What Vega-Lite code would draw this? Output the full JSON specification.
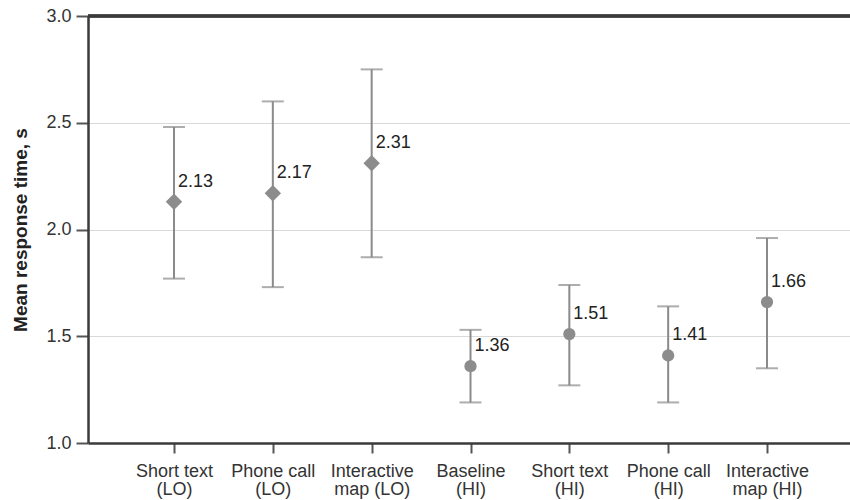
{
  "$schema": "https://vega.github.io/schema/vega-lite/v6.json",
  "autosize": {"type": "none"},
  "padding": {"left": 88, "top": 16, "right": 0, "bottom": 57},
  "width": 765,
  "height": 427,
  "background": "white",
  "config": {
    "font": "Liberation Sans",
    "view": {"stroke": null},
    "axis": {
      "labelFont": "Liberation Sans",
      "titleFont": "Liberation Sans",
      "labelColor": "#333333",
      "titleColor": "#222222",
      "domainColor": "#3a3a3a",
      "domainWidth": 2.5,
      "tickColor": "#555555",
      "tickWidth": 2
    }
  },
  "data": {
    "values": [
      {"cond": "Short text|(LO)", "group": "LO", "mean": 2.13, "lo": 1.77, "hi": 2.48},
      {"cond": "Phone call|(LO)", "group": "LO", "mean": 2.17, "lo": 1.73, "hi": 2.60},
      {"cond": "Interactive|map (LO)", "group": "LO", "mean": 2.31, "lo": 1.87, "hi": 2.75},
      {"cond": "Baseline|(HI)", "group": "HI", "mean": 1.36, "lo": 1.19, "hi": 1.53},
      {"cond": "Short text|(HI)", "group": "HI", "mean": 1.51, "lo": 1.27, "hi": 1.74},
      {"cond": "Phone call|(HI)", "group": "HI", "mean": 1.41, "lo": 1.19, "hi": 1.64},
      {"cond": "Interactive|map (HI)", "group": "HI", "mean": 1.66, "lo": 1.35, "hi": 1.96}
    ]
  },
  "layer": [
    {
      "encoding": {
        "x": {
          "field": "cond",
          "type": "nominal",
          "sort": null,
          "scale": {"type": "point", "padding": 0.87},
          "axis": {
            "title": null,
            "labelAngle": 0,
            "labelExpr": "split(datum.label, '|')",
            "labelFontSize": 18,
            "labelLineHeight": 18,
            "labelPadding": 9,
            "tickSize": 10,
            "labelBaseline": "top"
          }
        }
      },
      "layer": [
        {
          "mark": {"type": "rule", "color": "#8a8a8a", "strokeWidth": 2},
          "encoding": {
            "y": {
              "field": "lo",
              "type": "quantitative",
              "scale": {"domain": [1, 3], "nice": false},
              "axis": {
                "title": "Mean response time, s",
                "values": [1, 1.5, 2, 2.5, 3],
                "format": ".1f",
                "labelFontSize": 18,
                "titleFontSize": 19,
                "titleFontWeight": "bold",
                "titlePadding": 15,
                "tickSize": 12,
                "labelPadding": 5,
                "grid": true,
                "gridColor": "#d9d9d9",
                "gridWidth": 1
              }
            },
            "y2": {"field": "hi"}
          }
        },
        {
          "mark": {"type": "tick", "color": "#8a8a8a", "thickness": 2, "size": 22},
          "encoding": {"y": {"field": "lo", "type": "quantitative"}}
        },
        {
          "mark": {"type": "tick", "color": "#8a8a8a", "thickness": 2, "size": 22},
          "encoding": {"y": {"field": "hi", "type": "quantitative"}}
        },
        {
          "mark": {"type": "point", "filled": true, "opacity": 1, "color": "#8c8c8c"},
          "encoding": {
            "y": {"field": "mean", "type": "quantitative"},
            "shape": {
              "field": "group",
              "type": "nominal",
              "scale": {"domain": ["LO", "HI"], "range": ["diamond", "circle"]},
              "legend": null
            },
            "size": {
              "field": "group",
              "type": "nominal",
              "scale": {"domain": ["LO", "HI"], "range": [270, 150]},
              "legend": null
            }
          }
        },
        {
          "mark": {"type": "text", "align": "left", "baseline": "middle", "dx": 4, "dy": -20, "fontSize": 18, "color": "#222222"},
          "encoding": {
            "y": {"field": "mean", "type": "quantitative"},
            "text": {"field": "mean", "type": "quantitative", "format": ".2f"}
          }
        }
      ]
    },
    {
      "mark": {"type": "rule", "color": "#3a3a3a", "strokeWidth": 2.5},
      "encoding": {"y": {"datum": 3}}
    }
  ]
}
